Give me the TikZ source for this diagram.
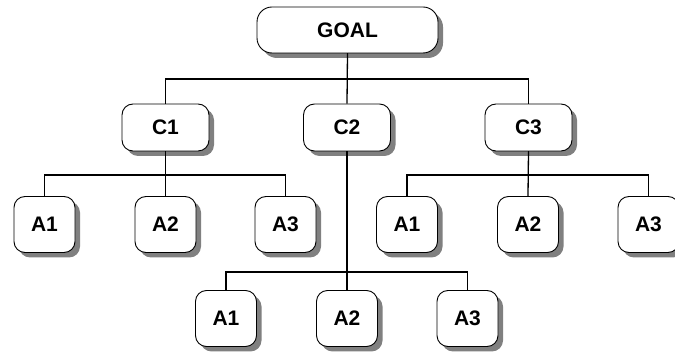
\documentclass[tikz,border=0pt]{standalone}
\usepackage{fontspec}
\setmainfont{Liberation Sans}
\usetikzlibrary{shadows}
\begin{document}
\begin{tikzpicture}[x=1pt,y=1pt,
  box/.style={draw=black, line width=0.9pt, fill=white, rounded corners=11pt,
    minimum width=61pt, minimum height=56pt, inner sep=0pt,
    font=\fontsize{21}{25}\selectfont\bfseries,
    drop shadow={shadow xshift=5pt, shadow yshift=-5pt, fill=black!50, opacity=1}},
  cbox/.style={box, minimum width=87pt, minimum height=47pt},
  gbox/.style={box, minimum width=181pt, minimum height=46pt, rounded corners=15pt},
  conn/.style={draw=black, line width=1.3pt}]
\useasboundingbox (0,0) rectangle (675,-352);
\coordinate (bus1) at (0,-79);
\coordinate (bus2) at (0,-175);
\coordinate (bus3) at (0,-272);
\node[gbox] (goal) at (347.5,-30) {GOAL};
\node[cbox] (c1) at (165.5,-127.5) {C1};
\node[cbox] (c2) at (347,-127.5) {C2};
\node[cbox] (c3) at (528.5,-127.5) {C3};
\node[box] (a11) at (44.5,-224.5) {A1};
\node[box] (a12) at (165.5,-224.5) {A2};
\node[box] (a13) at (285.5,-224.5) {A3};
\node[box] (a31) at (407,-224.5) {A1};
\node[box] (a32) at (528,-224.5) {A2};
\node[box] (a33) at (648.5,-224.5) {A3};
\node[box] (a21) at (226,-318.5) {A1};
\node[box] (a22) at (347,-318.5) {A2};
\node[box] (a23) at (467.5,-318.5) {A3};
\draw[conn] (goal.south) |- (c1.north |- bus1) -- (c1.north);
\draw[conn] (goal.south) |- (c3.north |- bus1) -- (c3.north);
\draw[conn] (goal.south) -- (c2.north);
\draw[conn] (c1.south) |- (a11.north |- bus2) -- (a11.north);
\draw[conn] (c1.south) |- (a13.north |- bus2) -- (a13.north);
\draw[conn] (c1.south) -- (a12.north);
\draw[conn] (c3.south) |- (a31.north |- bus2) -- (a31.north);
\draw[conn] (c3.south) |- (a33.north |- bus2) -- (a33.north);
\draw[conn] (c3.south) -- (a32.north);
\draw[conn] (c2.south) |- (a21.north |- bus3) -- (a21.north);
\draw[conn] (c2.south) |- (a23.north |- bus3) -- (a23.north);
\draw[conn] (c2.south) -- (a22.north);
\end{tikzpicture}
\end{document}
